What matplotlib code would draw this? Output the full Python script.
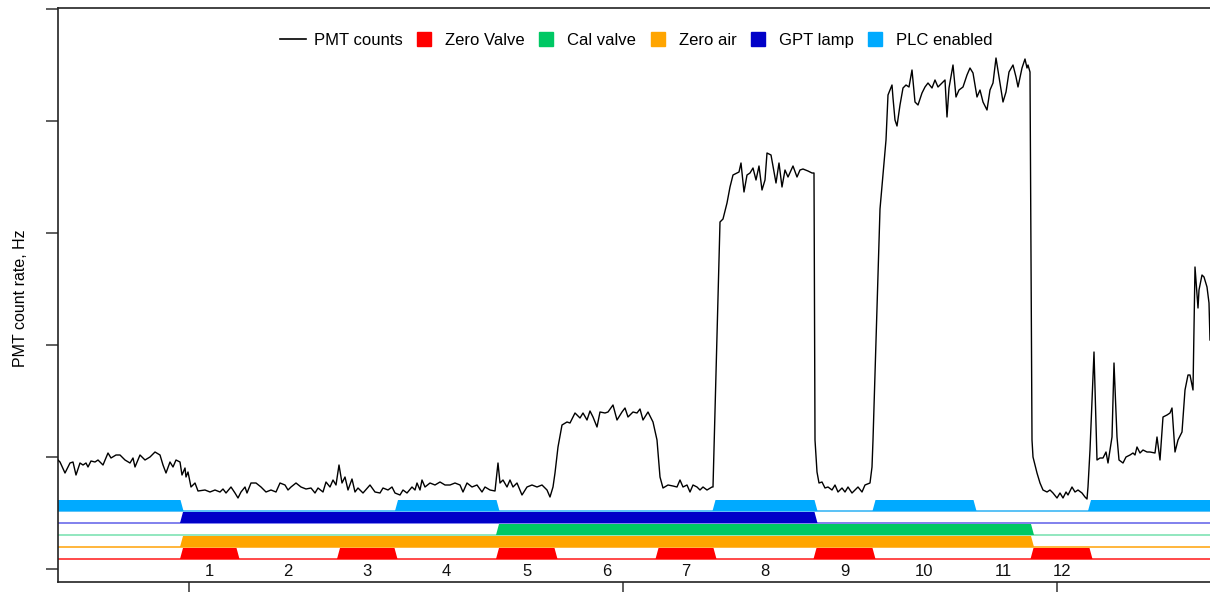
import numpy as np
import matplotlib
matplotlib.use("Agg")
import matplotlib.pyplot as plt
from matplotlib.lines import Line2D

plt.rcParams["font.family"] = ["Liberation Sans", "DejaVu Sans"]

# ---------------------------------------------------------------- data
# PMT count rate (Hz) against elapsed time (s)
pmt_t = [0, 2, 7, 12, 15, 18, 22, 25, 28, 30, 33, 37, 40, 45, 50, 53, 58, 62, 67, 72,
         75, 77, 82, 87, 92, 97, 102, 105, 108, 112, 115, 118, 122, 124, 127, 128, 130,
         133, 137, 140, 147, 152, 157, 162, 165, 168, 173, 177, 180, 183, 187, 189, 193,
         198, 203, 208, 213, 218, 222, 227, 230, 233, 238, 243, 248, 253, 257, 260, 265,
         268, 272, 275, 278, 281, 284, 287, 290, 294, 297, 300, 305, 312, 317, 322, 325,
         330, 334, 337, 342, 345, 349, 354, 357, 359, 362, 364, 367, 372, 377, 382, 387,
         392, 397, 402, 405, 409, 414, 419, 424, 427, 432, 437, 440, 442, 445, 449, 452,
         455, 459, 464, 469, 474, 479, 484, 489, 492, 495, 497, 500, 504, 509, 512, 517,
         522, 525, 529, 532, 535, 539, 542, 547, 550, 555, 559, 564, 567, 570, 575, 579,
         582, 585, 590, 595, 599, 602, 605, 610, 615, 619, 622, 625, 629, 632, 635, 639,
         642, 645, 649, 654, 655, 662, 665, 669, 672, 675, 679, 681, 683, 686, 689, 692,
         695, 698, 701, 704, 707, 709, 713, 718, 721, 724, 727, 730, 735, 739, 742, 745,
         750, 754, 756, 757, 759, 761, 764, 767, 770, 774, 777, 780, 784, 787, 790, 794,
         797, 800, 804, 807, 812, 814, 815, 822, 828, 830, 834, 835, 837, 839, 842, 845,
         848, 851, 854, 857, 860, 864, 867, 870, 874, 877, 880, 884, 887, 889, 891, 895,
         898, 901, 905, 909, 912, 915, 919, 922, 925, 929, 932, 935, 938, 941, 945, 948,
         951, 955, 958, 960, 964, 967, 969, 970, 972, 974, 975, 979, 982, 985, 989, 992,
         995, 999, 1002, 1005, 1008, 1010, 1014, 1017, 1020, 1024, 1027, 1029, 1030, 1032,
         1036, 1039, 1042, 1045, 1048, 1050, 1054, 1056, 1059, 1061, 1065, 1068, 1072,
         1075, 1077, 1079, 1082, 1085, 1089, 1092, 1097, 1099, 1102, 1105, 1109, 1112,
         1114, 1117, 1120, 1124, 1127, 1130, 1132, 1135, 1137, 1140, 1141, 1144, 1146,
         1149, 1151, 1152]
pmt_hz = [1090, 1070, 960, 1060, 1070, 940, 1060, 1040, 1060, 1020, 1080, 1070, 1090, 1040,
          1160, 1110, 1140, 1140, 1090, 1060, 1110, 1020, 1140, 1090, 1120, 1170, 1140, 1040,
          960, 1070, 1020, 1090, 1070, 940, 1010, 920, 970, 820, 860, 780, 790, 770, 790,
          770, 800, 760, 820, 760, 710, 770, 820, 760, 860, 860, 820, 770, 790, 770, 860,
          840, 790, 820, 860, 820, 800, 810, 760, 810, 770, 870, 820, 890, 840, 1040, 860,
          920, 790, 900, 770, 810, 760, 840, 770, 760, 810, 790, 820, 760, 740, 790, 760,
          820, 790, 860, 790, 890, 820, 860, 840, 870, 840, 840, 860, 840, 770, 860, 820,
          840, 770, 820, 790, 780, 1060, 860, 890, 820, 890, 820, 860, 740, 820, 840, 820,
          840, 790, 720, 820, 960, 1220, 1440, 1470, 1460, 1560, 1510, 1560, 1490, 1580,
          1520, 1420, 1570, 1560, 1570, 1640, 1490, 1570, 1610, 1520, 1570, 1560, 1600,
          1490, 1570, 1470, 1290, 920, 810, 840, 830, 820, 890, 820, 840, 770, 840, 820,
          790, 820, 790, 820, 820, 3470, 3500, 3660, 3820, 3940, 3960, 3970, 4060, 3770,
          3940, 3960, 4010, 3890, 4030, 3790, 3890, 4160, 4140, 3860, 4060, 3820, 3990,
          3920, 4030, 3920, 3990, 4000, 3980, 3960, 3960, 1290, 970, 860, 870, 810, 820,
          790, 840, 770, 810, 770, 820, 760, 790, 820, 770, 840, 860, 1020, 1290, 3600,
          4290, 4740, 4840, 4710, 4490, 4430, 4640, 4810, 4840, 4820, 4990, 4670, 4640,
          4760, 4820, 4860, 4810, 4890, 4820, 4860, 4890, 4520, 4810, 5040, 4720, 4790,
          4820, 4940, 5010, 4960, 4720, 4790, 4670, 4590, 4790, 4860, 5110, 4920, 4670,
          4770, 4970, 5040, 4920, 4820, 5010, 5100, 5010, 5040, 4970, 1290, 1120, 960, 860,
          790, 770, 790, 760, 710, 760, 710, 770, 740, 820, 770, 790, 760, 720, 700, 820,
          1190, 2170, 1090, 1110, 1110, 1170, 1060, 1320, 2060, 1320, 1090, 1060, 1120,
          1140, 1160, 1140, 1220, 1160, 1190, 1170, 1170, 1160, 1320, 1090, 1520, 1540,
          1560, 1610, 1170, 1290, 1370, 1790, 1940, 1940, 1790, 3020, 2610, 2790, 2940,
          2920, 2820, 2660, 2290]

# on-periods (start, end) of each status signal, in seconds
plc_on = [(-10, 124), (338.5, 440), (656, 758), (816, 917), (1031.5, 1200)]
gpt_on = [(123.5, 758)]
cal_on = [(439.5, 974.5)]
zero_air_on = [(123.5, 974.5)]
zero_valve_on = [(123.5, 180), (280.5, 338), (439.5, 498), (599, 657),
                 (757, 816), (974, 1033)]

# boundaries of the numbered measurement phases, in seconds
phase_edges = [123.5, 180, 280.5, 338, 439.5, 498, 599, 657, 757, 816, 917, 974.5, 1033]
phase_labels = [str(i) for i in range(1, 13)]

# ---------------------------------------------------------------- style
W, H = 1210, 592
fig = plt.figure(figsize=(W / 100, H / 100), dpi=100)
ax = fig.add_axes([58 / W, 10 / H, 1152 / W, 574 / H])

t_max = 1152
ax.set_xlim(0, t_max)
ax.set_ylim(-130, 5610)

ax.plot(pmt_t, pmt_hz, color="black", lw=1.0, zorder=3)

RAMP = 3.0
BAND_H = 110
bands = [
    # (periods, fill colour, off-line colour, baseline)
    (zero_valve_on, "#ff0000", "#ff2a2a", 100),
    (zero_air_on, "#ffa500", "#ffa91a", 220),
    (cal_on, "#00c864", "#7fe3b4", 340),
    (gpt_on, "#0000c8", "#6b6bea", 460),
    (plc_on, "#00aaff", "#3db8f5", 580),
]


def band_outline(periods, base):
    xs, ys = [-20.0], [base]
    for on, off in periods:
        xs += [on - RAMP / 2, on + RAMP / 2, off - RAMP / 2, off + RAMP / 2]
        ys += [base, base + BAND_H, base + BAND_H, base]
    xs.append(t_max + 20)
    ys.append(base)
    return xs, ys


for periods, fc, lc, base in bands:
    xs, ys = band_outline(periods, base)
    ax.fill(xs, ys, color=fc, lw=0, zorder=2)
    ax.plot([-20, t_max + 20], [base, base], color=lc, lw=1.2, zorder=1.5)

# phase numbers centred between boundaries
mids = [(a + b) / 2 for a, b in zip(phase_edges[:-1], phase_edges[1:])]
for m, lab in zip(mids, phase_labels):
    ax.text(m, -20, lab, ha="center", va="center", fontsize=12, color="#111111")

# axes decoration
ax.set_yticks([0, 1120, 2240, 3360, 4480, 5600])
ax.set_xticks([131, 565, 999])
ax.tick_params(axis="both", which="both", direction="out", length=8.6, width=1.1,
               color="#333333", labelleft=False, labelbottom=False)
ax.spines["right"].set_visible(False)
for s in ("left", "top", "bottom"):
    ax.spines[s].set_linewidth(1.2)
    ax.spines[s].set_color("#222222")

ax.set_ylabel("PMT count rate, Hz", fontsize=11.5)
ax.yaxis.set_label_coords(-30 / 1152, 0.494)

handles = [
    Line2D([], [], color="black", lw=1.2),
    Line2D([], [], marker="s", ls="", markersize=10, color="#ff0000"),
    Line2D([], [], marker="s", ls="", markersize=10, color="#00c864"),
    Line2D([], [], marker="s", ls="", markersize=10, color="#ffa500"),
    Line2D([], [], marker="s", ls="", markersize=10, color="#0000c8"),
    Line2D([], [], marker="s", ls="", markersize=10, color="#00aaff"),
]
labels = ["PMT counts", "Zero Valve", "Cal valve", "Zero air", "GPT lamp", "PLC enabled"]
ax.legend(handles, labels, loc="center", bbox_to_anchor=(0.502, 0.944), ncol=6,
          frameon=False, fontsize=12, handlelength=1.6, handletextpad=0.45,
          columnspacing=0.5)

fig.savefig("out.png", dpi=100)
